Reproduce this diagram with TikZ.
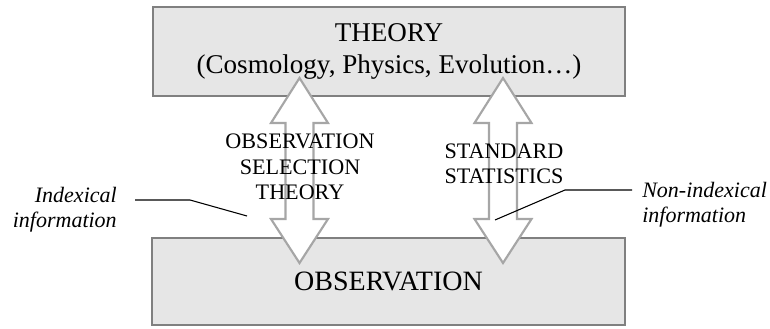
\documentclass[tikz,border=0pt]{standalone}
\usepackage{fontspec}
\setmainfont{Liberation Serif}
\usepackage{xcolor}
\usepackage{tikz}

\definecolor{boxfill}{HTML}{E6E6E6}
\definecolor{boxline}{HTML}{808080}
\definecolor{arrowline}{HTML}{A6A6A6}

\tikzset{
  panel/.style={draw=boxline, line width=1.8pt, fill=boxfill, inner sep=0pt,
                align=center, font=\fontsize{20.3}{23.5}\selectfont},
  blockarrow/.style={draw=arrowline, line width=1.6pt, fill=white, line join=miter},
  arrowlabel/.style={align=center, inner sep=0pt, font=\fontsize{16.6}{19}\selectfont},
  sidelabel/.style={inner sep=0pt, font=\fontsize{16.5}{19}\selectfont\itshape},
  pointer/.style={black, line width=0.8pt}
}

\begin{document}
\begin{tikzpicture}[x=0.75pt, y=-0.75pt]
  \useasboundingbox (0,0) rectangle (770,328);
  % the two boxes
  \node[panel, minimum width=354pt, minimum height=66.75pt] (theory) at (389,51.5)
        {THEORY\\(Cosmology, Physics, Evolution…)};
  \node[panel, minimum width=354.75pt, minimum height=65.25pt,
        font=\fontsize{21}{24}\selectfont] (obs) at (388.5,281.5) {OBSERVATION};
  % double block arrows
  \foreach \ax in {299.5,503}
    \draw[blockarrow] (\ax,78) -- (\ax+28.5,123) -- (\ax+14,123) -- (\ax+14,219)
          -- (\ax+28.5,219) -- (\ax,263) -- (\ax-28.5,219) -- (\ax-14,219)
          -- (\ax-14,123) -- (\ax-28.5,123) -- cycle;
  \node[arrowlabel] (ost) at (300,167) {OBSERVATION\\SELECTION\\THEORY};
  \node[arrowlabel] (std) at (504,164) {STANDARD\\STATISTICS};
  % side notes
  \node[sidelabel, anchor=east, align=right] (idx) at (117,210) {Indexical\\information};
  \node[sidelabel, anchor=west, align=left] (nonidx) at (642,205) {Non-indexical\\information};
  \coordinate (idxstart) at (135,200);
  \coordinate (idxbend) at (190,200);
  \coordinate (idxtip) at (247,216);
  \coordinate (nonstart) at (632,190);
  \coordinate (nonbend) at (565,190);
  \coordinate (nontip) at (495,220);
  \draw[pointer] (idxstart) -- (idxbend) -- (idxtip);
  \draw[pointer] (nonstart) -- (nonbend) -- (nontip);
\end{tikzpicture}
\end{document}
